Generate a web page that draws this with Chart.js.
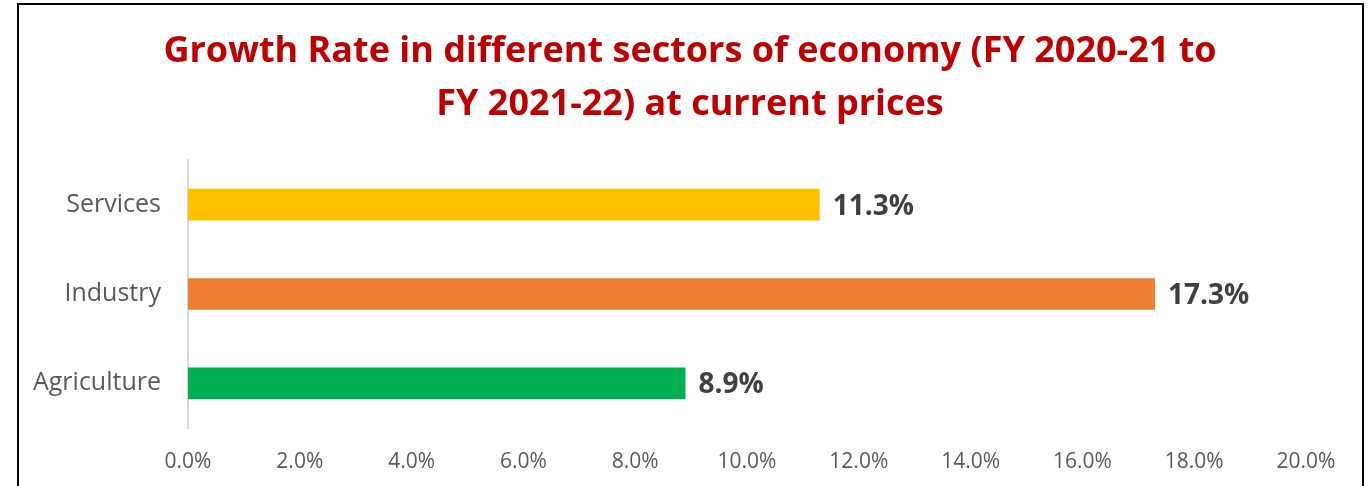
<!DOCTYPE html>
<html><head><meta charset="utf-8">
<script src="https://cdn.jsdelivr.net/npm/chart.js@4/dist/chart.umd.min.js"></script>
<style>
html,body{margin:0;padding:0;background:#fff;}
#wrap{position:absolute;left:0;top:0;width:1370px;height:486px;}
#frame{position:absolute;left:17px;top:3px;width:1347px;height:490px;border:2px solid #000;border-bottom:none;box-sizing:border-box;pointer-events:none;}
canvas{position:absolute;left:0;top:0;}
</style></head>
<body>
<div id="wrap"><canvas id="c" width="1370" height="486"></canvas><div id="frame"></div></div>
<script>
const categories = ["Services", "Industry", "Agriculture"];
const growthRates = [11.3, 17.3, 8.9];
const barColors = ["#FFC000", "#ED7D31", "#00B050"];
const xTickMin = 0, xTickMax = 20, xTickStep = 2;
const titleLines = ["Growth Rate in different sectors of economy (FY 2020-21 to", "FY 2021-22) at current prices"];

const FONT = "'Open Sans', 'Noto Sans', sans-serif";

const labelPlugin = {
  id: 'barLabels',
  afterDatasetsDraw(chart) {
    const ctx = chart.ctx;
    const meta = chart.getDatasetMeta(0);
    ctx.save();
    ctx.font = "bold 28px " + FONT;
    ctx.fillStyle = "#404040";
    ctx.textAlign = "left";
    ctx.textBaseline = "middle";
    meta.data.forEach((bar, i) => {
      const v = chart.data.datasets[0].data[i];
      ctx.fillText(v.toFixed(1) + "%", bar.x + 13, bar.y + 2);
    });
    ctx.restore();
  }
};

const titlePlugin = {
  id: 'centeredTitle',
  afterDraw(chart) {
    const ctx = chart.ctx;
    ctx.save();
    ctx.font = "bold 36px " + FONT;
    ctx.fillStyle = "#C00000";
    ctx.textAlign = "center";
    ctx.textBaseline = "middle";
    titleLines.forEach((line, i) => {
      ctx.fillText(line, 690, 51.5 + i * 53);
    });
    ctx.restore();
  }
};

new Chart(document.getElementById('c'), {
  type: 'bar',
  data: {
    labels: categories,
    datasets: [{
      data: growthRates,
      backgroundColor: barColors,
      borderWidth: 0,
      barPercentage: 0.71,
      categoryPercentage: 0.5
    }]
  },
  options: {
    indexAxis: 'y',
    responsive: false,
    animation: false,
    devicePixelRatio: 1,
    layout: { padding: { left: 20, right: 64, top: 160, bottom: 14 } },
    plugins: {
      legend: { display: false },
      tooltip: { enabled: false },
      title: { display: false }
    },
    scales: {
      x: {
        min: xTickMin, max: xTickMax,
        grid: { display: false, drawTicks: false },
        border: { display: false },
        afterFit: s => { s.height = 44; },
        ticks: {
          stepSize: xTickStep,
          color: "#595959",
          padding: 21,
          font: { family: FONT, size: 21 },
          callback: v => v.toFixed(1) + "%"
        }
      },
      y: {
        grid: { display: false, drawTicks: false },
        border: { display: true, color: "#D9D9D9", width: 2 },
        afterFit: s => { s.width = 168; },
        ticks: {
          color: "#595959",
          padding: 27,
          font: { family: FONT, size: 25 }
        }
      }
    }
  },
  plugins: [labelPlugin, titlePlugin]
});
</script>
</body></html>
